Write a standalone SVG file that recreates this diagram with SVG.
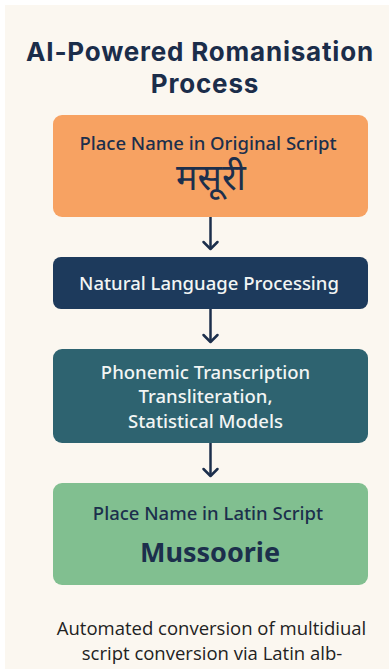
<svg xmlns="http://www.w3.org/2000/svg" width="389" height="669" viewBox="0 0 389 669">
  <style>
    .title { font-family: "Inter", "Liberation Sans", sans-serif; font-weight: 700; font-size: 26px; letter-spacing: 0.8px; fill: #1b2d4a; text-anchor: middle; }
    .lbl { font-family: "Noto Sans", "Liberation Sans", sans-serif; font-weight: 500; font-size: 18.5px; text-anchor: middle; }
    .dark { fill: #1c2f4c; }
    .light { fill: #f2f5f4; }
    .big { font-family: "Noto Sans", "Liberation Sans", sans-serif; font-weight: 700; font-size: 27px; fill: #1c2f4c; text-anchor: middle; }
    .deva { font-family: "Noto Sans Devanagari", "Noto Sans", "Liberation Sans", sans-serif; font-size: 36px; fill: #1c2f4c; text-anchor: middle; }
    .cap { font-family: "Open Sans", "Liberation Sans", sans-serif; font-size: 18.5px; fill: #222; text-anchor: middle; }
    .conn { stroke: #1c2f4c; stroke-width: 2.5; fill: none; }
    .head { stroke: #1c2f4c; stroke-width: 2.5; fill: none; stroke-linecap: round; stroke-linejoin: round; }
  </style>

  <rect x="0" y="0" width="389" height="669" fill="#ffffff"/>
  <rect x="5" y="5" width="384" height="664" fill="#fbf7f0"/>

  <g id="title">
    <text class="title" x="200" y="61">AI-Powered Romanisation</text>
    <text class="title" x="205" y="93">Process</text>
  </g>

  <g id="connectors">
    <line class="conn" x1="210.5" y1="217" x2="210.5" y2="249"/>
    <polyline class="head" points="203.5,242 210.5,249 217.5,242"/>
    <line class="conn" x1="210.5" y1="309" x2="210.5" y2="342"/>
    <polyline class="head" points="203.5,335 210.5,342 217.5,335"/>
    <line class="conn" x1="210.5" y1="443" x2="210.5" y2="476"/>
    <polyline class="head" points="203.5,469 210.5,476 217.5,469"/>
  </g>

  <g id="node-original">
    <rect x="53" y="115" width="315" height="102" rx="9" fill="#f7a262"/>
    <text class="lbl dark" x="208" y="150">Place Name in Original Script</text>
    <text class="deva" x="211" y="190">मसूरी</text>
  </g>

  <g id="node-nlp">
    <rect x="53" y="257" width="315" height="52" rx="8" fill="#1d3a5c"/>
    <text class="lbl light" x="209" y="290">Natural Language Processing</text>
  </g>

  <g id="node-methods">
    <rect x="53" y="349" width="315" height="94" rx="9" fill="#2e6370"/>
    <text class="lbl light" x="205.5" y="379">Phonemic Transcription</text>
    <text class="lbl light" x="205.5" y="403">Transliteration,</text>
    <text class="lbl light" x="205.5" y="428">Statistical Models</text>
  </g>

  <g id="node-latin">
    <rect x="53" y="483" width="315" height="102" rx="9" fill="#81bf90"/>
    <text class="lbl dark" x="208" y="520">Place Name in Latin Script</text>
    <text class="big" x="210" y="562">Mussoorie</text>
  </g>

  <g id="caption">
    <text class="cap" x="211.5" y="635">Automated conversion of multidiual</text>
    <text class="cap" x="212" y="660">script conversion via Latin alb-</text>
  </g>
</svg>
